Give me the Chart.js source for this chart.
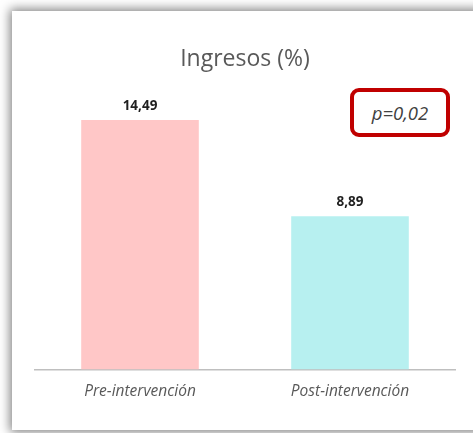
<!DOCTYPE html>
<html><head><meta charset="utf-8">
<script src="https://cdn.jsdelivr.net/npm/chart.js@4"></script>
<style>
html,body{margin:0;padding:0;background:#fff;width:473px;height:433px;overflow:hidden;}
#card{position:absolute;left:12px;top:11px;width:480px;height:419px;background:#fff;box-shadow:0 0 10px 2px rgba(0,0,0,0.5);}
#wrap{position:absolute;left:0;top:0;width:473px;height:433px;}
#pbox{position:absolute;left:350px;top:88px;width:92px;height:41px;border:4px solid #C00000;border-radius:9px;
 font-family:"Open Sans",sans-serif;font-style:italic;font-size:18.5px;color:#404040;display:flex;align-items:center;justify-content:center;background:#fff;}
</style></head>
<body>
<div id="card"></div>
<div id="wrap"><canvas id="c" width="473" height="433"></canvas></div>
<div id="pbox">p=0,02</div>
<script>
const categories = ["Pre-intervención", "Post-intervención"];
const values = [14.49, 8.89];
const valueLabels = ["14,49", "8,89"];
const titleText = "Ingresos (%)";

const labelPlugin = {
  id: 'valueLabels',
  afterDatasetsDraw(chart) {
    const ctx = chart.ctx;
    const meta = chart.getDatasetMeta(0);
    ctx.save();
    ctx.font = 'bold 13.5px "Open Sans", sans-serif';
    ctx.fillStyle = '#1f1f1f';
    ctx.textAlign = 'center';
    ctx.textBaseline = 'bottom';
    meta.data.forEach((bar, i) => {
      ctx.fillText(valueLabels[i], bar.x, bar.y - 7);
    });
    ctx.restore();
  }
};

new Chart(document.getElementById('c'), {
  type: 'bar',
  data: {
    labels: categories,
    datasets: [{
      data: values,
      backgroundColor: ['#FFC7C7', '#B7F0F0'],
      borderWidth: 0,
      barPercentage: 1,
      categoryPercentage: 0.56
    }]
  },
  options: {
    responsive: false,
    animation: false,
    layout: { padding: { left: 35, right: 18, top: 0, bottom: 19 } },
    plugins: {
      legend: { display: false },
      tooltip: { enabled: false },
      title: {
        display: true,
        text: titleText,
        color: '#595959',
        font: { family: '"Open Sans", sans-serif', size: 23, weight: 'normal' },
        padding: { top: 45.5, bottom: 20.8 }
      }
    },
    scales: {
      x: {
        grid: { display: false, drawTicks: false },
        border: { display: true, color: '#BFBFBF', width: 1.5 },
        ticks: { color: '#595959', padding: 13, font: { family: '"Open Sans", sans-serif', size: 15.5, style: 'italic' } }
      },
      y: {
        display: false,
        min: 0,
        max: 16
      }
    }
  },
  plugins: [labelPlugin]
});
</script>
</body></html>
